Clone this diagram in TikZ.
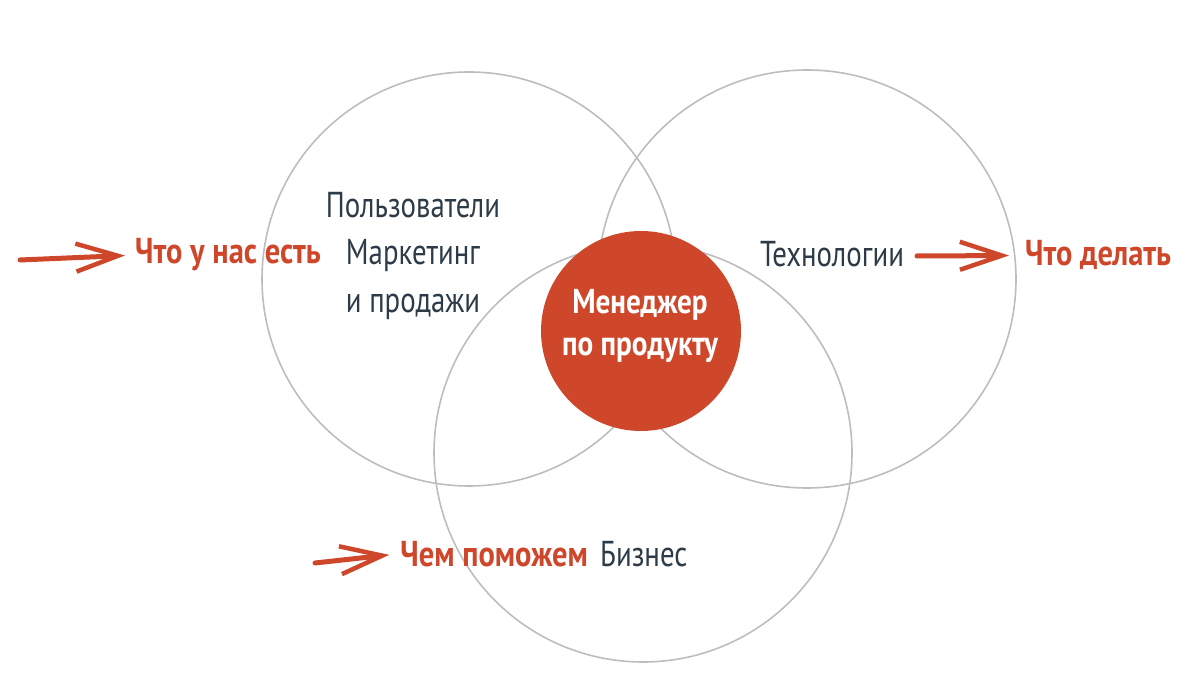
\documentclass[tikz,border=0pt]{standalone}
\usepackage{fontspec}
\setmainfont{PT Sans}[FakeStretch=0.8, BoldFeatures={FakeStretch=0.846}]
\usetikzlibrary{arrows.meta, positioning}
\definecolor{prodred}{HTML}{CF472B}
\definecolor{inkdark}{HTML}{2C3B47}
\definecolor{ringgray}{HTML}{BDBDBD}

\begin{document}
\begin{tikzpicture}[x=1pt, y=-1pt,
    ring/.style={circle, draw=ringgray, line width=1.6pt, minimum size=416pt, inner sep=0pt},
    darktext/.style={text=inkdark, font=\fontsize{36}{47.5}\selectfont, inner sep=0pt, align=center},
    redtext/.style={text=prodred, font=\fontsize{36}{47.5}\selectfont\bfseries, inner sep=0pt},
    brush/.style={draw=prodred, line width=5pt, line cap=round,
        -{Straight Barb[length=42pt, width=28pt, line width=4.5pt]}}]
    \useasboundingbox (0,0) rectangle (1200,692);

    % three areas
    \node[ring, minimum size=414pt] (users) at (469,279) {};
    \node[ring, minimum size=418pt] (tech) at (807,279) {};
    \node[ring, minimum size=418pt] (biz) at (643,453) {};

    % product manager in the middle
    \node[circle, fill=prodred, minimum size=200pt, inner sep=0pt] (pm) at (641,331) {};
    \node[text=white, font=\fontsize{34.5}{42}\selectfont\bfseries, inner sep=0pt, align=center]
        (pmtext) at (640,326) {Менеджер\\по продукту};

    % area labels
    \node[darktext] (userstext) at (413,256) {Пользователи\\Маркетинг\\и продажи};
    \node[darktext, anchor=base] (techtext) at (832,267) {Технологии};
    \node[darktext, anchor=base west] (biztext) at (600,566) {Бизнес};

    % questions
    \node[redtext, anchor=base west] (have) at (135,264) {Что у нас есть};
    \node[redtext, anchor=base west] (todo) at (1025,266) {Что делать};
    \node[redtext, anchor=base east] (help) at (588,566) {Чем поможем};

    % arrows
    \coordinate (haveTail) at (20,260);
    \coordinate (todoTail) at (917,256);
    \coordinate (helpTail) at (315,563);
    \draw[brush, shorten >=10pt] (haveTail) -- (have.west);
    \draw[brush, shorten >=16pt] (todoTail) -- (todo.west);
    \draw[brush, shorten >=11pt] (helpTail) -- (help.west);
\end{tikzpicture}
\end{document}
